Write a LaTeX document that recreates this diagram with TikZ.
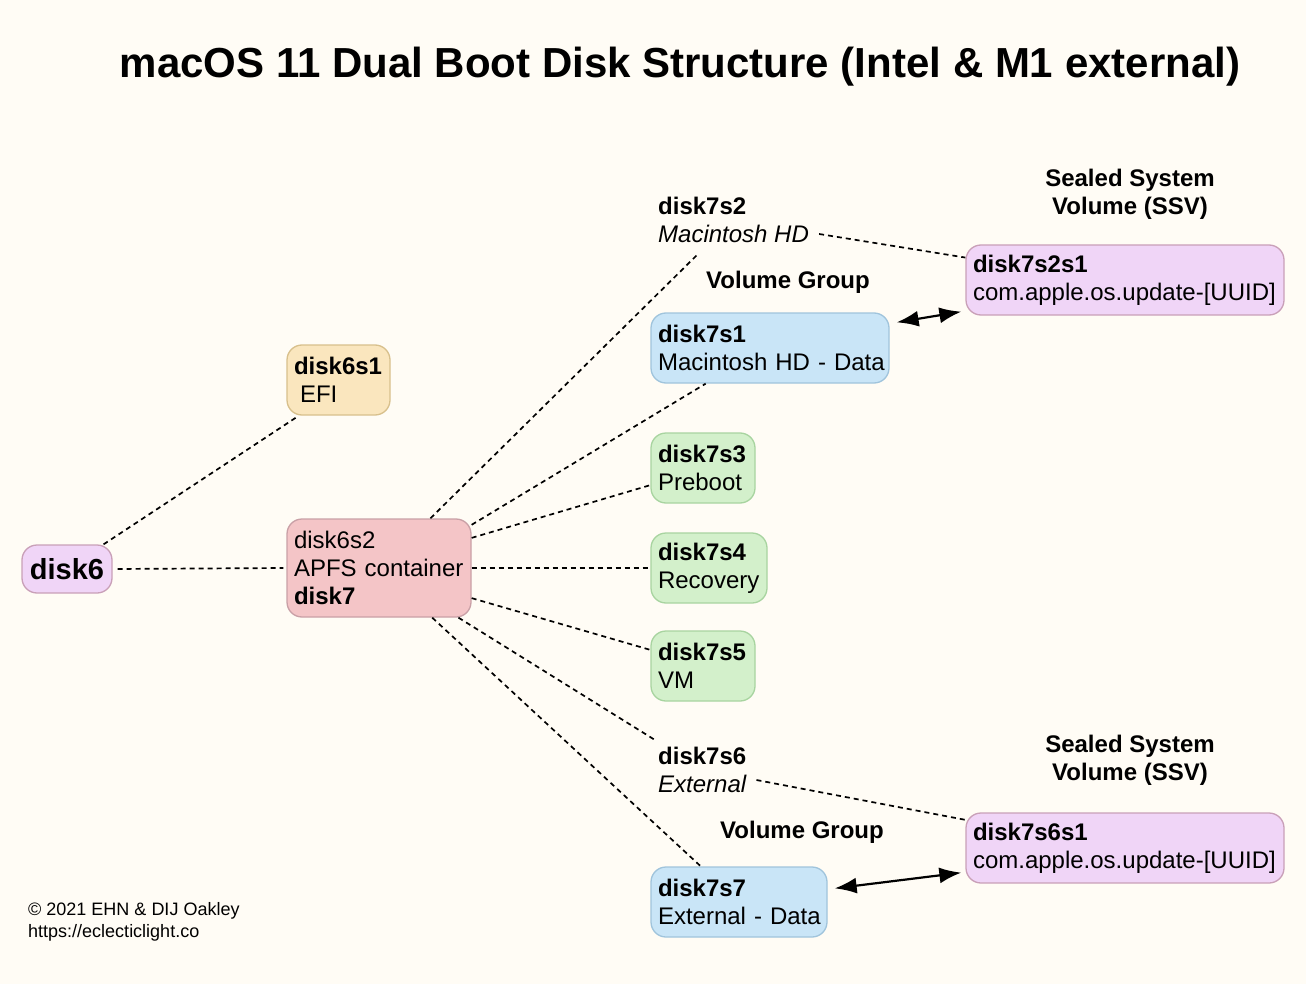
\documentclass[tikz,border=0pt]{standalone}
\usepackage{fontspec}
\setmainfont{Liberation Sans}
\usetikzlibrary{calc,arrows.meta}
\definecolor{bg}{HTML}{FFFCF5}
\definecolor{purf}{HTML}{F0D5F7}\definecolor{purd}{HTML}{C9A0B8}
\definecolor{yelf}{HTML}{FAE6BE}\definecolor{yeld}{HTML}{D8C08C}
\definecolor{pnkf}{HTML}{F4C5C7}\definecolor{pnkd}{HTML}{C9A0A6}
\definecolor{bluf}{HTML}{C9E5F7}\definecolor{blud}{HTML}{A0C4DC}
\definecolor{grnf}{HTML}{D3F0CB}\definecolor{grnd}{HTML}{A8D4A0}
\tikzset{
  box/.style={draw, rounded corners=15pt, line width=1.3pt, align=left,
    inner xsep=7pt, inner ysep=0pt, minimum height=70pt,
    font=\fontsize{24}{28}\selectfont},
  pur/.style={box, fill=purf, draw=purd},
  yel/.style={box, fill=yelf, draw=yeld},
  pnk/.style={box, fill=pnkf, draw=pnkd},
  blu/.style={box, fill=bluf, draw=blud},
  grn/.style={box, fill=grnf, draw=grnd},
  lbl/.style={inner sep=0pt, font=\fontsize{24}{28}\selectfont},
  hdr/.style={inner sep=0pt, align=center, font=\fontsize{24}{28}\selectfont\bfseries},
  link/.style={dashed, dash pattern=on 5pt off 4pt, line width=1.7pt},
  dbl/.style={line width=2.2pt, {Latex[length=22pt,width=16pt]}-{Latex[length=22pt,width=16pt]}}
}
\begin{document}
\begin{tikzpicture}[x=1pt,y=-1pt]
\fill[bg] (0,0) rectangle (1306,984);
\useasboundingbox (0,0) rectangle (1306,984);

\node[inner sep=0pt, font=\fontsize{42}{48}\selectfont\bfseries] (title) at (680,67) {macOS 11 Dual Boot Disk Structure (Intel \& M1 external)};

% boxes
\node[pur, minimum width=90pt, minimum height=48pt, align=center, font=\fontsize{29}{32}\selectfont\bfseries] (d6) at (67,569) {disk6};
\node[yel, text width=89pt] (d6s1) at (338.5,380) {\mbox{\textbf{disk6s1}}\\\mbox{\hspace*{6pt}EFI}};
\node[pnk, text width=170pt, minimum height=98pt] (d6s2) at (379,568) {\mbox{disk6s2}\\\mbox{APFS container}\\\mbox{\textbf{disk7}}};
\node[blu, text width=224pt] (d7s1) at (770,348) {\mbox{\textbf{disk7s1}}\\\mbox{Macintosh HD - Data}};
\node[grn, text width=90pt] (d7s3) at (703,468) {\mbox{\textbf{disk7s3}}\\\mbox{Preboot}};
\node[grn, text width=102pt] (d7s4) at (709,568) {\mbox{\textbf{disk7s4}}\\\mbox{Recovery}};
\node[grn, text width=90pt] (d7s5) at (703,666) {\mbox{\textbf{disk7s5}}\\\mbox{VM}};
\node[blu, text width=162pt] (d7s7) at (739,902) {\mbox{\textbf{disk7s7}}\\\mbox{External - Data}};
\node[pur, text width=304pt] (d7s2s1) at (1125,280) {\mbox{\textbf{disk7s2s1}}\\\mbox{com.apple.os.update-[UUID]}};
\node[pur, text width=304pt] (d7s6s1) at (1125,848) {\mbox{\textbf{disk7s6s1}}\\\mbox{com.apple.os.update-[UUID]}};

% labels
\node[lbl, anchor=west, font=\fontsize{24}{28}\selectfont\bfseries] (l7s2a) at (658,206) {disk7s2};
\node[lbl, anchor=west, font=\fontsize{24}{28}\selectfont\itshape] (l7s2b) at (658,234) {Macintosh HD};
\node[lbl, anchor=west, font=\fontsize{24}{28}\selectfont\bfseries] (l7s6a) at (658,756) {disk7s6};
\node[lbl, anchor=west, font=\fontsize{24}{28}\selectfont\itshape] (l7s6b) at (658,784) {External};
\node[hdr] (ssv1) at (1130,194) {Sealed System\\Volume (SSV)};
\node[hdr] (ssv2) at (1130,760) {Sealed System\\Volume (SSV)};
\node[hdr] (vg1) at (788,282) {Volume Group};
\node[hdr] (vg2) at (802,832) {Volume Group};

\node[inner sep=0pt, anchor=west, align=left, font=\fontsize{18}{22}\selectfont] (foot) at (28,922) {© 2021 EHN \& DIJ Oakley\\https://eclecticlight.co};

% connectors
\draw[link] (d6.34) -- (d6s1.222);
\draw[link, shorten <=5pt, shorten >=3pt] (d6.east) -- (d6s2.west);
\draw[link] (d6s2.44) -- ($(l7s2b.south west)+(40,11)$);
\draw[link] (d6s2.25) -- (d7s1.209);
\draw[link] (d6s2.18) -- (d7s3.198);
\draw[link] (d6s2.east) -- (d7s4.west);
\draw[link] (d6s2.342) -- (d7s5.163);
\draw[link] (d6s2.328) -- ($(l7s6a.west)+(-3,-16)$);
\draw[link] (d6s2.317) -- (d7s7.137);
\draw[link] ($(l7s2b.east)+(10,0)$) -- (d7s2s1.172);
\draw[link] ($(l7s6b.east)+(10,-4)$) -- (d7s6s1.170);

\draw[dbl] ($(d7s1.north east)+(7,10)$) -- ($(d7s2s1.south west)+(-4,-4)$);
\draw[dbl] ($(d7s7.north east)+(7,22)$) -- ($(d7s6s1.south west)+(-4,-11)$);
\end{tikzpicture}
\end{document}
